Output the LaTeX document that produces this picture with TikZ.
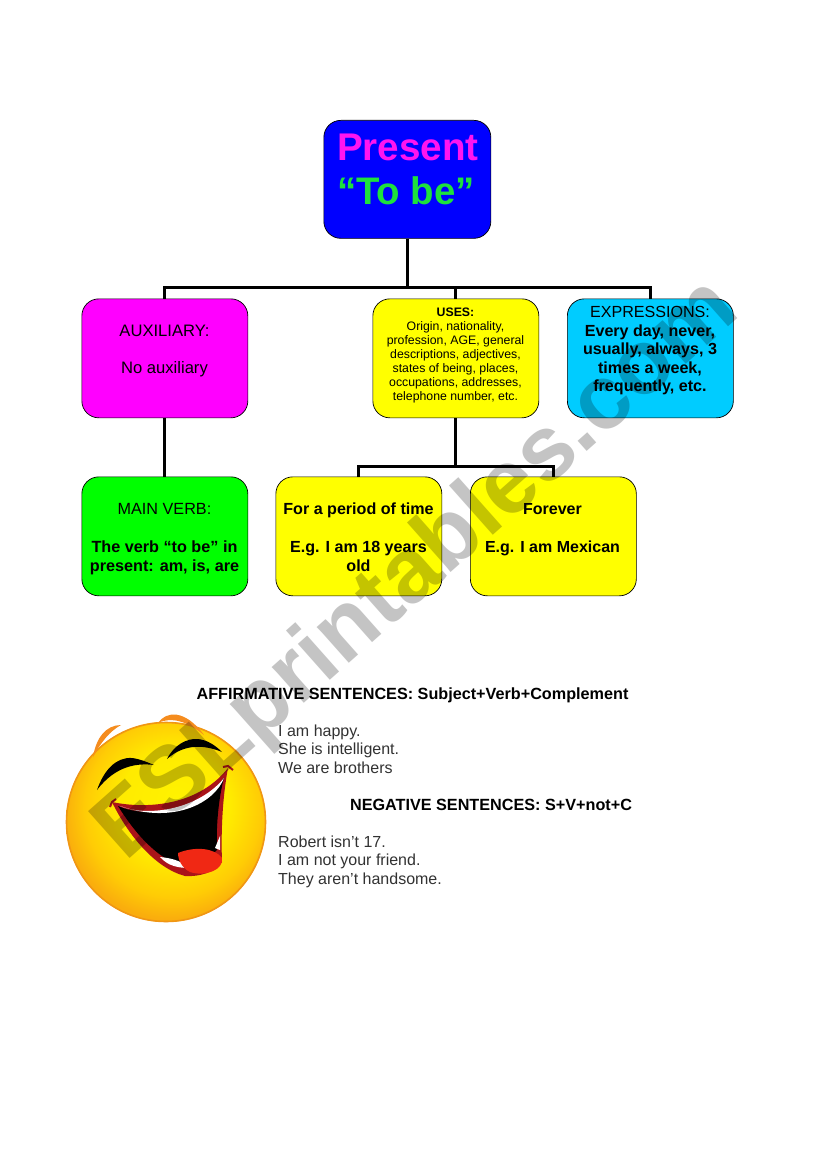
\documentclass[tikz,border=0pt]{standalone}
\usepackage{fontspec}
\setmainfont{Liberation Sans}
\usetikzlibrary{calc}
\definecolor{cBlue}{RGB}{0,0,255}
\definecolor{cMag}{RGB}{255,0,255}
\definecolor{cYel}{RGB}{255,255,0}
\definecolor{cCyan}{RGB}{0,204,255}
\definecolor{cGreen}{RGB}{0,255,0}
\definecolor{cTitleMag}{RGB}{255,20,240}
\definecolor{cTitleGreen}{RGB}{30,225,60}
\definecolor{cWater}{RGB}{196,196,196}
\definecolor{cBrow}{RGB}{245,140,30}
\definecolor{cRim}{RGB}{240,150,20}
\definecolor{cLip}{RGB}{170,20,25}
\definecolor{cTongue}{RGB}{240,40,20}
\definecolor{cPlain}{RGB}{50,50,50}
\pgfdeclareradialshading{faceshade}{\pgfpoint{3bp}{6bp}}{
  rgb(0bp)=(1,0.95,0);rgb(14bp)=(1,0.92,0);rgb(22bp)=(1,0.80,0.02);rgb(27bp)=(0.98,0.68,0.05);rgb(50bp)=(0.95,0.58,0.08)}
\begin{document}
\begin{tikzpicture}[x=1pt,y=-1pt,
  box/.style={draw=black,line width=0.7pt,rounded corners=17pt,minimum width=166pt,minimum height=119pt,inner sep=0pt,align=center,anchor=north west},
  wire/.style={line width=3pt,black},
  boxtext/.style={anchor=north,inner sep=0pt,align=center,text=black},
  plain/.style={anchor=north west,inner sep=0pt,align=left,font=\fontsize{16}{18.4}\selectfont,text=cPlain},
  head/.style={anchor=base,inner sep=0pt,font=\bfseries\fontsize{16.2}{18}\selectfont,text=black}]
\useasboundingbox (0,0) rectangle (821,1169);
\fill[white] (0,0) rectangle (821,1169);
% face
\shade[shading=faceshade] (166,822) circle (100);
\draw[cRim,line width=1.6pt] (166,822) circle (99.5);
\fill[cBrow] (93,757) .. controls (96,738) and (106,725) .. (121,725) .. controls (110,731) and (101,742) .. (93,757) -- cycle;
\fill[cBrow] (158,723) .. controls (166,711) and (185,709) .. (204,735) .. controls (188,722) and (172,716) .. (158,723) -- cycle;
\fill[black] (97,790) .. controls (104,770) and (116,757) .. (132,758) .. controls (140,759) and (147,762) .. (154,765) .. controls (138,763) and (116,765) .. (97,790) -- cycle;
\fill[black] (167,759) .. controls (174,745) and (187,738) .. (198,739) .. controls (207,740) and (215,745) .. (222,752) .. controls (205,745) and (185,743) .. (167,759) -- cycle;
% mouth
\fill[cLip] (112,802) .. controls (150,810) and (200,804) .. (228,768) .. controls (222,800) and (221,835) .. (222,862) .. controls (215,872) and (200,877) .. (185,876) .. controls (155,868) and (128,835) .. (112,802) -- cycle;
\fill[black] (118,806) .. controls (150,820) and (200,810) .. (224,778) .. controls (218,800) and (216,830) .. (217,850) .. controls (205,862) and (180,868) .. (165,858) .. controls (145,845) and (130,825) .. (118,806) -- cycle;
\fill[white] (120,806) .. controls (150,818) and (200,808) .. (224,778) .. controls (215,802) and (175,825) .. (120,806) -- cycle;
\fill[white] (160,857) .. controls (170,858) and (180,860) .. (190,868) .. controls (178,868) and (168,866) .. (160,857) -- cycle;
\fill[white] (215,848) -- (220,836) -- (220,850) -- cycle;
\fill[cTongue] (178,853) .. controls (195,846) and (215,848) .. (222,858) .. controls (224,870) and (205,877) .. (190,872) .. controls (182,868) and (178,860) .. (178,853) -- cycle;
\draw[cLip,line width=2pt] (110,807) -- (112,802) -- (116,799);
\draw[cLip,line width=2pt] (223,767) -- (228,766) -- (233,770);
% connectors
\coordinate (bus1) at (407,287);
\coordinate (bus2) at (455.5,466);
\node[box,fill=cBlue,minimum width=167pt,minimum height=118pt] (title) at (323.5,120) {};
\node[box,fill=cMag] (aux) at (81.5,298.5) {};
\node[box,fill=cYel] (uses) at (372.5,298.5) {};
\node[box,fill=cCyan] (expr) at (567,298.5) {};
\node[box,fill=cGreen] (main) at (81.5,476.5) {};
\node[box,fill=cYel] (period) at (275.5,476.5) {};
\node[box,fill=cYel] (forever) at (470,476.5) {};
\draw[wire] (title.south) -- (title.south |- bus1);
\draw[wire] (aux.north) |- (bus1) -| (expr.north);
\draw[wire] (bus1 -| uses.north) -- (uses.north);
\draw[wire] (aux.south) -- (main.north);
\draw[wire] (uses.south) -- (uses.south |- bus2);
\draw[wire] (period.north) |- (bus2) -| (forever.north);
% texts
\node[anchor=center,inner sep=0pt,font=\bfseries\fontsize{38.6}{44}\selectfont,text=cTitleMag] (t1) at (408,147) {Present};
\node[anchor=center,inner sep=0pt,font=\bfseries\fontsize{38.4}{44}\selectfont,text=cTitleGreen] (t2) at (406,191) {“To be”};
\node[boxtext,font=\fontsize{16.6}{20}\selectfont] (at) at (164.5,325) {AUXILIARY:\\[17pt]No auxiliary};
\node[boxtext,font=\fontsize{12.3}{14}\selectfont] (ut) at (455.5,307.5) {\textbf{USES:}\\Origin, nationality,\\profession, AGE, general\\descriptions, adjectives,\\states of being, places,\\occupations, addresses,\\telephone number, etc.};
\node[boxtext,font=\fontsize{16.1}{18.6}\selectfont] (et) at (650,306) {EXPRESSIONS:\\\textbf{Every day, never,}\\\textbf{usually, always, 3}\\\textbf{times a week,}\\\textbf{frequently, etc.}};
\node[boxtext,font=\fontsize{16.2}{19}\selectfont] (mt) at (164.5,503) {MAIN VERB:\\[19pt]\textbf{The verb “to be” in}\\\textbf{present: am, is, are}};
\node[boxtext,font=\fontsize{16.1}{19}\selectfont] (pt) at (358.5,503) {\textbf{For a period of time}\\[19pt]\textbf{E.g. I am 18 years}\\\textbf{old}};
\node[boxtext,font=\fontsize{16}{19}\selectfont] (ft) at (552.5,503) {\textbf{Forever}\\[19pt]\textbf{E.g. I am Mexican}};
\node[head] (ha) at (412.5,699) {AFFIRMATIVE SENTENCES: Subject+Verb+Complement};
\node[plain] (pa) at (278,724.5) {I am happy.\\She is intelligent.\\We are brothers};
\node[head] (hn) at (491,810) {NEGATIVE SENTENCES: S+V+not+C};
\node[plain] (pn) at (278,835.5) {Robert isn't 17.\\I am not your friend.\\They aren't handsome.};
% watermark
\begin{scope}[blend mode=multiply]
\node[rotate=41.6,inner sep=0pt,text=cWater,font=\bfseries\fontsize{91}{91}\selectfont] (wm) at (418,571) {ESLprintables.com};
\end{scope}
\end{tikzpicture}
\end{document}
